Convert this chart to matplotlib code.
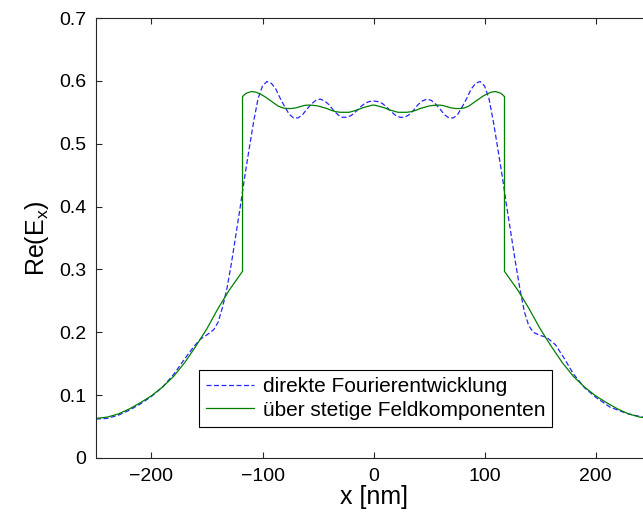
import matplotlib
matplotlib.use("Agg")
import matplotlib.pyplot as plt

plt.rcParams['font.family'] = ['Liberation Sans', 'DejaVu Sans']
plt.rcParams['mathtext.fontset'] = 'custom'
plt.rcParams['mathtext.rm'] = 'Liberation Sans'
plt.rcParams['mathtext.default'] = 'regular'
plt.rcParams['lines.scale_dashes'] = False

# direkte Fourierentwicklung (blue dashed)
x_fourier = [-250, -240, -230, -220, -210, -200, -190, -180, -170, -162, -156, -150,
             -144, -140, -136, -132, -128, -124, -120, -116, -112, -108, -104, -100,
             -96, -92, -88, -84, -80, -76, -72, -68, -64, -60, -56, -52, -48, -44,
             -40, -36, -32, -28, -24, -20, -16, -12, -8, -4, 0,
             4, 8, 12, 16, 20, 24, 28, 32, 36, 40, 44, 48, 52, 56, 60, 64, 68, 72,
             76, 80, 84, 88, 92, 96, 100, 104, 108, 112, 116, 120, 124, 128, 132,
             136, 140, 144, 150, 156, 164, 172, 180, 190, 200, 213, 228, 240, 250]
y_fourier = [0.062, 0.063, 0.068, 0.076, 0.086, 0.098, 0.113, 0.133, 0.158, 0.177, 0.189, 0.196,
             0.204, 0.216, 0.240, 0.270, 0.310, 0.355, 0.400, 0.448, 0.492, 0.535, 0.572, 0.592,
             0.599, 0.596, 0.587, 0.572, 0.559, 0.547, 0.541, 0.541, 0.546, 0.555, 0.563, 0.569, 0.571, 0.568,
             0.562, 0.553, 0.546, 0.542, 0.542, 0.545, 0.551, 0.558, 0.564, 0.567, 0.568,
             0.567, 0.564, 0.558, 0.551, 0.545, 0.542, 0.542, 0.546, 0.553, 0.562, 0.568, 0.571, 0.569, 0.563, 0.555, 0.546, 0.541, 0.541,
             0.547, 0.559, 0.572, 0.587, 0.596, 0.599, 0.592, 0.572, 0.535, 0.492, 0.448, 0.400, 0.355, 0.310, 0.268,
             0.232, 0.210, 0.200, 0.195, 0.192, 0.180, 0.158, 0.134, 0.112, 0.097, 0.081, 0.071, 0.066, 0.063]

# über stetige Feldkomponenten (green solid)
x_stetig = [-250, -240, -230, -220, -210, -200, -190, -180, -170, -160, -150, -140, -130, -124,
            -118, -118, -115, -110, -106, -102, -98, -94, -90, -86, -82, -78, -74, -70, -66,
            -62, -58, -54, -50, -46, -42, -38, -34, -30, -26, -22, -18, -14, -10, -6, -2, 0,
            2, 6, 10, 14, 18, 22, 26, 30, 34, 38, 42, 46, 50, 54, 58, 62, 66, 70, 74, 78,
            82, 86, 90, 94, 98, 102, 106, 110, 115, 118, 118, 124, 130, 140, 150, 160, 170,
            180, 190, 200, 210, 220, 230, 240, 250]
y_stetig = [0.063, 0.065, 0.070, 0.078, 0.088, 0.099, 0.113, 0.130, 0.152, 0.178, 0.206, 0.238, 0.267, 0.282,
            0.297, 0.575, 0.580, 0.583, 0.582, 0.579, 0.575, 0.570, 0.565, 0.560, 0.557, 0.556, 0.556, 0.557, 0.559,
            0.561, 0.5615, 0.561, 0.560, 0.558, 0.556, 0.553, 0.551, 0.550, 0.550, 0.550, 0.552, 0.554, 0.557, 0.559, 0.561, 0.5615,
            0.561, 0.559, 0.557, 0.554, 0.552, 0.550, 0.550, 0.550, 0.551, 0.553, 0.556, 0.558, 0.560, 0.561, 0.5615, 0.561, 0.559, 0.557, 0.556, 0.556,
            0.557, 0.560, 0.565, 0.570, 0.575, 0.579, 0.582, 0.583, 0.580, 0.575, 0.297, 0.282, 0.267, 0.238, 0.206, 0.178, 0.152,
            0.130, 0.113, 0.099, 0.088, 0.078, 0.070, 0.065, 0.063]

x_ticks = [-200, -100, 0, 100, 200]
y_ticks = [0, 0.1, 0.2, 0.3, 0.4, 0.5, 0.6, 0.7]
y_ticklabels = ['0', '0.1', '0.2', '0.3', '0.4', '0.5', '0.6', '0.7']

fig = plt.figure(figsize=(6.43, 5.22), dpi=100)
ax = fig.add_axes([96/643, 64/522, 555/643, 440/522])

ax.plot(x_fourier, y_fourier, color='#0000ff', linestyle='--', dashes=(3.6, 1.8), lw=0.9,
        label='direkte Fourierentwicklung', alpha=0.85)
ax.plot(x_stetig, y_stetig, color='#007f00', lw=0.9, label='über stetige Feldkomponenten')

ax.set_xlim(-250, 250)
ax.set_ylim(0, 0.7)
ax.set_xticks(x_ticks)
ax.set_yticks(y_ticks)
ax.set_yticklabels(y_ticklabels)
ax.tick_params(direction='in', length=4, width=0.8, top=True, right=True,
               labelsize=14, pad=7, color='#262626')
for s in ax.spines.values():
    s.set_linewidth(0.8)
    s.set_color('#262626')

ax.set_xlabel('x [nm]', fontsize=18, labelpad=0)
ax.set_ylabel('Re(E$_x$)', fontsize=18, labelpad=6)

leg = ax.legend(loc='lower left', bbox_to_anchor=(0.1856, 0.0705), borderaxespad=0,
                fontsize=15, fancybox=False, edgecolor='black', framealpha=1,
                handlelength=2.3, handletextpad=0.4, labelspacing=0.22, borderpad=0.35)
leg.get_frame().set_linewidth(0.8)

fig.savefig('out.png', dpi=100)
